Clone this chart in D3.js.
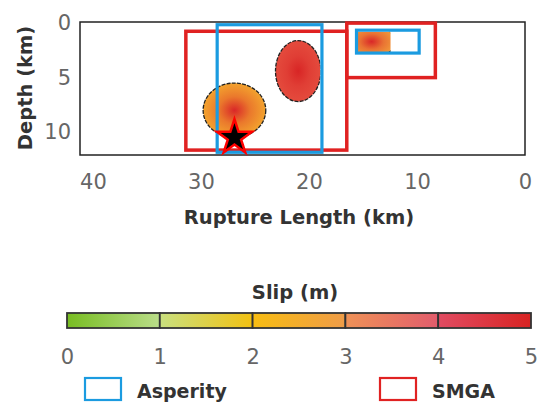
<!DOCTYPE html>
<html>
<head>
<meta charset="utf-8">
<script src="https://cdn.jsdelivr.net/npm/d3@7"></script>
<style>
  html, body { margin: 0; padding: 0; background: #fff; }
  svg { display: block; }
  text { font-family: "DejaVu Sans", sans-serif; }
</style>
</head>
<body>
<svg id="chart" width="539" height="408"></svg>
<script>
// Rupture model: slip patches, asperities and strong motion generation areas (SMGA)
const xTicks = [40, 30, 20, 10, 0];          // rupture length (km)
const yTicks = [0, 5, 10];                   // depth (km)
const slipTicks = [0, 1, 2, 3, 4, 5];        // slip (m)

// rectangles: [x0 km, x1 km, top depth km, bottom depth km]
const asperities = [[28.5, 18.8, 0.25, 11.95], [15.6, 9.8, 0.75, 2.85]];
const smgas = [[31.4, 16.5, 0.85, 11.75], [16.5, 8.3, 0.1, 5.1]];

// slip patches: centre (km), semi-axes (km), peak slip and rim slip (m)
const patchX = [26.9, 21.0, 14.2];
const patchY = [8.1, 4.5, 1.8];
const patchRx = [2.9, 2.1, 2.2];
const patchRy = [2.5, 2.8, 1.45];
const patchPeak = [4.9, 4.95, 4.9];
const patchRim = [2.4, 4.2, 2.6];
// patch clipped to its cell window (x0, x1, top, bottom km), null when whole
const patchClip = [null, [24, 18.95, 1.5, 8], [15.7, 12.45, 0.9, 2.85]];

// hypocentre
const hypoX = [26.9];
const hypoY = [10.6];

// colour bar segments (start colour, end colour) for each metre of slip
const segStart = ["#78bd22", "#c9e07f", "#f8bd12", "#ef9257", "#e14c62"];
const segEnd   = ["#badd89", "#f2c112", "#ef9c48", "#e25c6c", "#d82322"];

const svg = d3.select("#chart");
const defs = svg.append("defs");

const x = d3.scaleLinear().domain([41.2, 0]).range([80, 525]);
const y = d3.scaleLinear().domain([0, 12.2]).range([22, 155]);

const slipColour = d3.scaleLinear()
  .domain([0, 1, 2, 3, 4, 5])
  .range(["#78bd22", "#c9e07f", "#f8bd12", "#ef9257", "#e14c62", "#d82322"]);
// rim of the slip patches renders warmer than the bar
const patchColour = s => d3.interpolateRgb(slipColour(s), "#e8502a")(s > 4 ? 0.55 : 0.1);

// plot frame
svg.append("rect")
  .attr("x", x(41.2)).attr("y", y(0))
  .attr("width", x(0) - x(41.2)).attr("height", y(12.2) - y(0))
  .attr("fill", "#fff").attr("stroke", "#222").attr("stroke-width", 1.5);

// slip patches
patchX.forEach((px, i) => {
  const gid = "slipgrad" + i;
  const core = slipColour(patchPeak[i]);
  const rim = patchColour(patchRim[i]);
  const g = defs.append("radialGradient").attr("id", gid);
  g.append("stop").attr("offset", "0%").attr("stop-color", core);
  g.append("stop").attr("offset", "50%").attr("stop-color", d3.interpolateRgb(rim, core)(0.35));
  g.append("stop").attr("offset", "100%").attr("stop-color", rim);
  let target = svg.append("g");
  if (patchClip[i]) {
    const c = patchClip[i];
    defs.append("clipPath").attr("id", "clip" + i)
      .append("rect")
      .attr("x", x(c[0])).attr("y", y(c[2]))
      .attr("width", x(c[1]) - x(c[0])).attr("height", y(c[3]) - y(c[2]));
    target.attr("clip-path", `url(#clip${i})`);
  }
  target.append("ellipse")
    .attr("cx", x(px)).attr("cy", y(patchY[i]))
    .attr("rx", x(0) - x(patchRx[i])).attr("ry", y(patchRy[i]) - y(0))
    .attr("fill", `url(#${gid})`)
    .attr("stroke", "#222").attr("stroke-width", 1.3)
    .attr("stroke-dasharray", "4,1.2");
});

const drawRect = (r, colour, w) => svg.append("rect")
  .attr("x", x(r[0])).attr("y", y(r[2]))
  .attr("width", x(r[1]) - x(r[0])).attr("height", y(r[3]) - y(r[2]))
  .attr("fill", "none").attr("stroke", colour).attr("stroke-width", w);

smgas.forEach(r => drawRect(r, "#e02222", 3.5));
asperities.forEach(r => drawRect(r, "#1b9be0", 3.2));

// hypocentre star
const star = d3.symbol().type(d3.symbolStar).size(380);
svg.selectAll(".hypo").data(hypoX).enter().append("path")
  .attr("class", "hypo")
  .attr("transform", (d, i) => `translate(${x(d)},${y(hypoY[i])})`)
  .attr("d", star)
  .attr("fill", "#000").attr("stroke", "#f00").attr("stroke-width", 2.5)
  .attr("stroke-linejoin", "miter");

const tickStyle = sel => sel.attr("font-size", 21).attr("fill", "#666")
  .attr("font-family", "DejaVu Sans");

// axes
const xAxis = d3.axisBottom(x).tickValues(xTicks).tickSize(0).tickPadding(0);
const gx = svg.append("g").attr("transform", "translate(0,174)").call(xAxis);
gx.select(".domain").remove();
gx.selectAll("text").call(tickStyle).attr("dy", "0.7em");

const yAxis = d3.axisLeft(y).tickValues(yTicks).tickSize(0).tickPadding(0);
const gy = svg.append("g").attr("transform", "translate(71,0)").call(yAxis);
gy.select(".domain").remove();
gy.selectAll("text").call(tickStyle).attr("dy", "0.36em");

const titleStyle = sel => sel.attr("font-size", 19.5).attr("font-weight", "bold").attr("fill", "#333");

svg.append("text")
  .attr("x", 299).attr("y", 224).attr("text-anchor", "middle")
  .call(titleStyle)
  .text("Rupture Length (km)");

svg.append("text")
  .attr("transform", "translate(32,88) rotate(-90)").attr("text-anchor", "middle")
  .call(titleStyle)
  .text("Depth (km)");

// colour bar
const s = d3.scaleLinear().domain([0, 5]).range([67, 531]);
svg.append("text")
  .attr("x", 295).attr("y", 299).attr("text-anchor", "middle")
  .call(titleStyle)
  .text("Slip (m)");

segStart.forEach((c, i) => {
  const gid = "seg" + i;
  const g = defs.append("linearGradient").attr("id", gid);
  g.append("stop").attr("offset", "0%").attr("stop-color", c);
  g.append("stop").attr("offset", "100%").attr("stop-color", segEnd[i]);
  svg.append("rect")
    .attr("x", s(i)).attr("y", 313)
    .attr("width", s(i + 1) - s(i)).attr("height", 15)
    .attr("fill", `url(#${gid})`).attr("stroke", "#333").attr("stroke-width", 1.8);
});

const sAxis = d3.axisBottom(s).tickValues(slipTicks).tickFormat(d3.format("d"))
  .tickSize(0).tickPadding(0);
const gs = svg.append("g").attr("transform", "translate(0,349)").call(sAxis);
gs.select(".domain").remove();
gs.selectAll("text").call(tickStyle).attr("dy", "0.7em");

// legend
const legend = [
  { label: "Asperity", colour: "#1b9be0", x: 85 },
  { label: "SMGA", colour: "#e02222", x: 380 }
];
legend.forEach(d => {
  svg.append("rect").attr("x", d.x).attr("y", 378).attr("width", 36).attr("height", 22)
    .attr("fill", "none").attr("stroke", d.colour).attr("stroke-width", 2.2);
  svg.append("text").attr("x", d.x + 52).attr("y", 398)
    .call(titleStyle).attr("font-size", 19)
    .text(d.label);
});
</script>
</body>
</html>
